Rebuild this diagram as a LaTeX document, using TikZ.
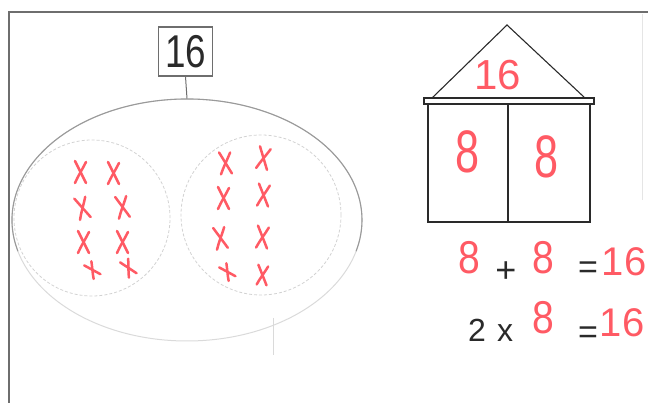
\documentclass[tikz,border=0pt]{standalone}
\usepackage{fontspec}
\setmainfont{Liberation Sans}
\usetikzlibrary{shapes.geometric}
\definecolor{hred}{HTML}{FF5A64}
\definecolor{frame}{HTML}{6E6E6E}
\definecolor{ringdark}{HTML}{9A9A9A}
\definecolor{ringlight}{HTML}{DADADA}
\definecolor{inner}{HTML}{D2D2D2}
\definecolor{ink}{HTML}{2A2A2A}
\tikzset{
  xmark/.pic={
    \draw[hred, line width=2.5pt, line cap=round] (-5,-11) .. controls (-1,-3) and (2,3) .. (6,11);
    \draw[hred, line width=2.5pt, line cap=round] (6,-10) .. controls (2,-2) and (-2,4) .. (-5,11);
  },
  reddigit/.style={text=hred, inner sep=0pt},
  blacktext/.style={text=ink, inner sep=0pt},
  houseline/.style={draw=ink, line width=1.1pt},
}
\begin{document}
\begin{tikzpicture}[x=1pt,y=-1pt]
\useasboundingbox (0,0) rectangle (648,403);
% frame
\draw[frame, line width=1.3pt] (9,403) -- (9,12) -- (648,12);
\draw[ringlight!70, line width=0.8pt] (642,14) -- (642,200);
% top box
\node[draw=frame, line width=1.2pt, minimum width=54pt, minimum height=49pt, inner sep=0pt,
      font=\fontsize{46}{46}\selectfont, text=ink] (top) at (185.5,51.5) {\scalebox{0.8}[1]{16}};
% big ellipse
\node[draw=ringlight, line width=1pt, ellipse, minimum width=350pt, minimum height=242pt, inner sep=0pt] (big) at (187,220) {};
\draw[ringdark, line width=1.1pt] (187,220) ++(165:175 and 121) arc[start angle=165, end angle=375, x radius=175, y radius=121];
\coordinate (etop) at (big.north);
\draw[frame, line width=1pt] (top.south) -- (etop);
% inner circles
\node[draw=inner, densely dashed, line width=0.8pt, circle, minimum size=156pt, inner sep=0pt] (lc) at (92,218) {};
\node[draw=inner, densely dashed, line width=0.8pt, circle, minimum size=160pt, inner sep=0pt] (rc) at (261,215) {};
\draw[ringlight, line width=0.8pt] (273,318) -- (273,355);
% crosses left
\pic at (80,172) {xmark};
\pic at (113,173) {xmark};
\pic[rotate=15] at (82,208) {xmark};
\pic[rotate=10] at (122,207) {xmark};
\pic at (83,242) {xmark};
\pic at (122,242) {xmark};
\pic[rotate=35, scale=0.75] at (92,270) {xmark};
\pic[rotate=30, scale=0.8] at (128,268) {xmark};
% crosses right
\pic[rotate=5] at (225,163) {xmark};
\pic[rotate=-10] at (263,158) {xmark};
\pic at (223,198) {xmark};
\pic[rotate=-5] at (263,195) {xmark};
\pic[rotate=10] at (220,238) {xmark};
\pic[rotate=-5] at (262,237) {xmark};
\pic[rotate=35, scale=0.75] at (227,272) {xmark};
\pic[rotate=-5, scale=0.9] at (262,275) {xmark};
% house
\coordinate (apex) at (507,25);
\coordinate (roofL) at (432,98);
\coordinate (roofR) at (585,98);
\draw[houseline] (roofL) -- (apex) -- (roofR);
\node[houseline, minimum width=170pt, minimum height=6pt, inner sep=0pt] (eave) at (509,101) {};
\node[houseline, minimum width=162pt, minimum height=118pt, inner sep=0pt] (body) at (509,163) {};
\coordinate (divtop) at (508,104);
\coordinate (divbot) at (508,222);
\draw[houseline] (divtop) -- (divbot);
\node[reddigit, font=\fontsize{42}{42}\selectfont] (roof16) at (498,75) {16};
\node[reddigit, font=\fontsize{60}{60}\selectfont] (h8l) at (468,152) {\scalebox{0.72}[1]{8}};
\node[reddigit, font=\fontsize{60}{60}\selectfont] (h8r) at (547,157) {\scalebox{0.72}[1]{8}};
% equations
\node[reddigit, font=\fontsize{46}{46}\selectfont] (e1a) at (469,258) {\scalebox{0.85}[1]{8}};
\node[blacktext, font=\fontsize{36}{36}\selectfont] (plus) at (506,272) {+};
\node[reddigit, font=\fontsize{46}{46}\selectfont] (e1b) at (543,258) {\scalebox{0.85}[1]{8}};
\node[blacktext, font=\fontsize{34}{34}\selectfont] (eq1) at (588,270) {=};
\node[reddigit, font=\fontsize{40}{40}\selectfont] (r1) at (624,262) {16};
\node[blacktext, font=\fontsize{32}{32}\selectfont] (two) at (477,330) {2};
\node[blacktext, font=\fontsize{32}{32}\selectfont] (times) at (505,333) {x};
\node[reddigit, font=\fontsize{46}{46}\selectfont] (e2) at (543,318) {\scalebox{0.85}[1]{8}};
\node[blacktext, font=\fontsize{34}{34}\selectfont] (eq2) at (588,335) {=};
\node[reddigit, font=\fontsize{40}{40}\selectfont] (r2) at (622,323) {16};
\end{tikzpicture}
\end{document}
